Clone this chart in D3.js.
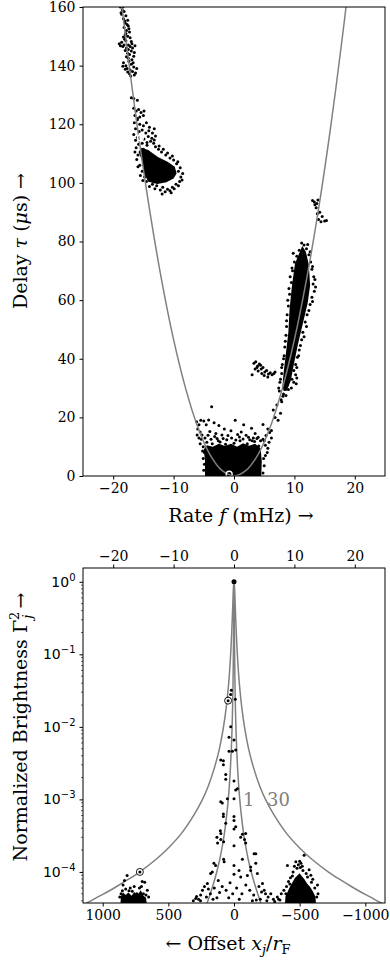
<!DOCTYPE html>
<html>
<head>
<meta charset="utf-8">
<script src="https://cdn.jsdelivr.net/npm/d3@7"></script>
<style>
  body { margin: 0; background: #fff; }
  .tick text { font-family: "DejaVu Serif", serif; font-size: 14px; fill: #000; }
  .lab { font-family: "DejaVu Serif", serif; font-size: 19px; fill: #000; }
</style>
</head>
<body>
<div id="chart"></div>
<script>
// ---- top panel: delay vs rate ----
var rateTicks = [-20, -10, 0, 10, 20];
var delayTicks = [0, 20, 40, 60, 80, 100, 120, 140, 160];

// parabola
var arcRate  = [-19, -18, -16, -14, -12, -10, -8, -6, -4, -2, 0, 2, 4, 6, 8, 10, 12, 14, 16, 18, 19];
var arcDelay = [168, 150.7, 119, 91.1, 67, 46.5, 29.8, 16.7, 7.4, 1.9, 0, 1.9, 7.4, 16.7, 29.8, 46.5, 67, 91.1, 119, 150.7, 168];

// scattered points [rate, delay]
var leftArmPts = [
  [-18.8,160],[-18.5,159],[-18.2,158.5],[-18.6,157.5],[-17.9,157],[-18.3,156],[-17.6,155.5],[-18.0,154.5],
  [-17.5,153.5],[-18.2,153],[-17.8,152],[-17.3,151.5],[-18.0,150.5],[-17.6,150],
  [-18.7,158],[-18.4,160],[-18.1,155.2],[-17.7,154],[-17.4,152.6],[-17.9,151],[-18.3,149.8],[-17.2,149.5],
  [-19.0,147.5],[-18.6,148],[-18.2,147],[-17.9,148.5],[-17.5,147],[-17.2,146.5],[-17.8,146],[-18.4,146.5],
  [-16.8,146],[-17.0,145],[-16.5,144.5],[-17.5,145.5],[-18.8,146.8],[-16.9,147.5],
  [-18.0,145.2],[-17.6,144.2],[-17.3,143.8],[-16.6,143.2],[-18.1,149],[-17.0,148.2],[-16.4,146.8],
  [-18.3,141],[-17.9,140],[-17.4,141.5],[-17.0,140.5],[-16.6,139.5],[-17.7,139],[-17.2,138.5],[-16.8,138],
  [-16.3,137.5],[-17.5,142.5],[-16.9,142],[-16.1,139],[-18.0,138.8],[-17.3,137.2],
  [-17.8,143],[-18.4,139.8],[-16.7,141],[-17.6,137.8],[-16.5,136.8],[-17.1,136.5],
  [-17.0,129],[-16.6,128.8],[-16.0,128.2],
  [-16.6,125.5],[-16.2,124.5],[-15.8,125],[-15.4,124],[-15.0,123],[-16.4,123],[-15.6,122.5],[-14.9,124.5],[-16.0,122],
  [-16.5,120.5],[-16.0,121.5],[-15.6,120],[-15.0,119.5],[-14.5,120.5],[-14.0,119],[-16.3,118.5],[-15.7,117.5],
  [-15.2,118],[-14.6,117],[-14.1,117.8],[-13.5,117],[-13.2,118.5],[-16.6,116.5],[-16.0,115.5],[-14.9,115],
  [-14.2,115.8],[-13.6,115.2],[-13.0,116],[-16.3,114.5],[-15.2,113.5],[-14.4,113.8],[-13.8,114.2],[-13.2,114.6],[-15.8,113.2],
  [-16.2,112],[-15.9,109.5],[-15.6,106],[-15.2,104],[-14.8,102],[-14.5,100.5],[-13.5,99.5],[-12.8,99],
  [-11.8,98.5],[-11.0,97.8],[-10.2,98.5],[-9.6,99.5],[-9.0,100.5],[-8.8,102],[-9.2,104],[-9.5,106.5],
  [-10.0,107.8],[-10.6,108.5],[-11.3,109.5],[-12.0,110.5],[-12.5,111.5],[-13.0,112.3],[-15.0,111.5],
  [-16.4,110.5],[-16.1,108],[-15.9,105.5],[-15.5,102.5],[-15.1,100.8],[-14.0,98.8],[-13.1,98],[-12.2,97.6],
  [-11.4,97],[-10.6,97.3],[-9.9,98],[-9.2,99],[-8.6,101],[-8.5,103.2],[-8.9,105.2],[-9.3,107.2],[-10.2,109.2],
  [-11.0,110.2],[-11.7,111.5],[-12.4,112.6],[-13.3,113.5],[-14.4,112.8],[-10.4,96.6],[-11.9,96.2]
];
var rightArmPts = [
  [13.0,94],[13.3,93.5],[13.7,93],[13.4,92.5],[13.9,94.2],[13.6,91.5],[14.2,90],[14.6,88.5],[15.0,87],
  [14.0,87.5],[14.4,86.7],[15.3,87.2],[13.8,89.5],
  [11.2,79.5],[11.6,78.8],[12.0,77.5],[10.8,77],[10.4,75],[12.4,75.5],[12.7,73],[10.0,73],[11.0,74],
  [12.9,70.5],[13.2,68],[9.7,70],[13.1,65.5],[13.3,63],[9.5,66],[9.2,62],[12.9,61],[12.6,58.5],[9.0,58],
  [8.8,55],[12.1,55],[11.8,52.5],[8.7,51],[8.6,48],[11.4,49],[11.2,46.5],[8.4,44],[8.3,41],[10.8,43],
  [10.5,40.5],[8.0,38],[10.2,38],[7.9,35],[9.9,36],[7.6,32],[9.6,33],[10.2,34.5],[7.5,29],[8.2,28],
  [9.0,29.5],[8.6,27.5],[7.8,26],[10.4,33.4],[6.8,35.5],
  [9.8,76],[9.6,71],[9.3,68],[9.1,64],[8.9,60],[8.7,53],[8.5,46],[8.2,40],[7.9,37],[7.7,33],[7.4,30],
  [12.2,79],[12.6,76.5],[13.0,71.5],[13.4,67],[13.5,64.5],[13.0,59.5],[12.4,56.5],[12.0,51],[11.6,47.5],
  [11.0,44.5],[10.7,41],[10.4,37],[9.9,32],
  [3.0,34.5],[3.3,38.5],[3.6,39],[3.9,37.5],[4.2,38.2],[4.5,36.5],[4.8,37],[5.1,35.5],[5.4,36],[5.7,34.8],
  [6.0,35.2],[6.3,34.5],[6.6,35],[3.5,36.5],[4.0,35.8],[4.6,35],[5.0,34.3],[3.8,37],[4.4,37.8],[5.6,33.8]
];
var vertexPts = [
  [-6.2,18.5],[-5.8,17.5],[-5.5,19],[-5.0,18.8],[-4.6,17.5],[-4.2,19.1],[-3.7,23.6],[-3.3,18.2],[-2.5,17.2],
  [0.2,19],[-1.6,16],[1.6,17.5],[2.9,16.3],[4.8,17.6],[5.6,16],[5.9,14.8],[6.2,15.5],[-6.0,16],[-5.6,15],
  [-5.3,14],[-4.0,15.2],[-3.0,14.5],[-2.0,14],[-1.0,13.8],[0.6,14.2],[1.2,15],[2.0,13.9],[3.5,14.5],
  [4.0,13.2],[4.8,12.5],[5.3,13.8],[5.2,10.5],[5.5,8],[-5.4,12.5],[-5.1,10],[-4.9,8],[-4.3,13.9],
  [-2.8,12.8],[-0.5,15.4],[2.6,12.4],[3.2,13],[6.8,20],[7.1,24.2],[7.7,21.4],[7.9,25.3],[8.1,27.2],
  [8.4,29.5],[8.8,31],[9.5,30],[10.3,31.5],[6.5,22.5],[7.3,19],
  [-4.5,11.5],[-3.6,11],[-2.3,11.6],[-1.4,10.8],[0.0,11.2],[1.0,12],[2.2,11],[3.4,11.8],[4.1,10.2],
  [-5.0,2],[-4.9,4],[-5.1,6],[-5.2,8.5],[-5.6,11],[-5.8,13],[-6.1,14],[-4.8,13],
  [4.8,1],[5.0,3.5],[4.9,6],[5.2,7],[5.6,9.5],[5.8,11.5],[6.2,13],[5.0,12],
  [-3.8,12.5],[-3.2,13.5],[-2.6,12],[-1.8,12.8],[-1.2,12.4],[-0.4,13],[0.3,12.3],[0.9,13.3],[1.5,12.6],
  [2.4,13.2],[3.0,12],[3.8,12.8],[4.4,12]
];

// outlines of the solid black regions [rate, delay]
var leftBlob = [[-15.3,112],[-14.2,111.2],[-12.6,108.8],[-11,107.2],[-9.8,105.5],[-9.5,103.2],[-10,101.5],
  [-11.2,100.2],[-12.7,99.6],[-14.2,100.4],[-14.9,103.3],[-15.2,107.5],[-15.8,110.5]];
var rightBlob = [[11.3,78.5],[11.9,76.5],[12.4,72],[12.6,65],[12.2,59],[11.4,52],[10.6,45],[9.9,38],
  [9.4,32.5],[8.7,29],[8.0,30],[8.2,35],[8.6,42],[9.0,49],[9.2,57],[9.6,65],[10.1,72.5]];
var vertexBlob = [[-4.8,-1],[-4.8,5],[-5.0,9],[-4.5,10.5],[-3.5,10],[-2.5,11],[-1.5,10.2],[-0.5,11],
  [0.5,10],[1.5,11.2],[2.5,10.3],[3.5,11],[4.4,9.5],[4.6,5],[4.5,-1]];

var ringPts = [[-15.5,115.4],[-0.8,0.6]];

// ---- bottom panel: brightness vs offset ----
var offsetTicks = [1000, 500, 0, -500, -1000];
var brightTicks = [1e-4, 1e-3, 1e-2, 1e-1, 1];

// model curves: offsets (wide one) and brightness
var curveOffset = [0, 4, 8, 15, 25, 40, 60, 80, 110, 150, 200, 240, 300, 400, 500, 600, 712, 800, 900, 1000, 1107, 1150];
var curveBright = [1, 0.845, 0.56, 0.253, 0.104, 4.1e-2, 1.8e-2, 1.0e-2, 5.1e-3, 2.7e-3, 1.46e-3, 1.0e-3,
  6.3e-4, 3.4e-4, 2.14e-4, 1.46e-4, 1.02e-4, 8.0e-5, 6.2e-5, 4.9e-5, 3.85e-5, 3.5e-5];
// the narrow curve sits at the same heights, its offsets squeezed by this factor
var narrowScale = 5.48;

// measured images [offset, brightness]
var imagePts = [
  [55,2.4e-2],[45,2.5e-2],[25,2.8e-2],[35,2.2e-2],[-10,2.4e-2],[20,3.2e-2],
  [25,1.0e-2],[38,7.2e-3],[0,6.6e-3],[38,4.6e-3],[-13,4.8e-3],[81,3.4e-3],[81,3.0e-3],[63,2.2e-3],[63,1.9e-3],
  [0,1.8e-3],[-13,1.35e-3],[-26,1.4e-3],[89,8.9e-4],[50,1.02e-3],[0,1.02e-3],[81,6.3e-4],[81,5.8e-4],[0,5.8e-4],
  [0,5.1e-4],[63,4.7e-4],[-13,4.2e-4],[104,3.7e-4],[100,3.4e-4],[130,3.0e-4],[125,2.5e-4],[101,2.8e-4],[79,2.6e-4],
  [0,3.9e-4],[-51,3.0e-4],[-89,3.4e-4],[0,2.3e-4],[79,1.5e-4],[75,1.38e-4],[-153,1.78e-4],[-64,1.5e-4],[0,1.23e-4],
  [140,1.23e-4],[165,1.0e-4],[-127,1.17e-4],[-127,1.05e-4],[-166,1.32e-4],[-38,1.05e-4],[0,9.3e-5],[-51,8.5e-5],
  [-102,8.9e-5],[-64,3.3e-4],[-80,2.8e-4],[-89,2.5e-4],[12,4.6e-3],[101,3.5e-3],[101,9.3e-4],[-166,1.78e-4],
  [-178,9.5e-5],[153,1.32e-4],[178,9.5e-5],[203,6.9e-5],[254,4.8e-5],[292,4.3e-5],
  [120,7.6e-5],[90,6.3e-5],[60,5.6e-5],[30,7.1e-5],[-20,6.0e-5],[-60,5.0e-5],[-90,6.6e-5],[-120,5.6e-5],
  [-150,4.8e-5],[-190,6.3e-5],[-217,6.9e-5],[-230,5.6e-5],[-260,4.5e-5],[-300,4.2e-5],[-330,4.5e-5],[-280,5.0e-5],
  [150,6.0e-5],[180,5.0e-5],[210,4.5e-5],[240,5.6e-5],[270,4.2e-5],[310,4.0e-5],[225,6.3e-5],[-200,4.2e-5],[-240,5.0e-5],
  [130,4.4e-5],[110,5.2e-5],[160,4.2e-5],[195,5.8e-5],[255,4.0e-5],[285,4.6e-5],[-170,4.1e-5],[-210,5.3e-5],
  [-250,4.0e-5],[-310,3.9e-5],[-350,4.1e-5],[-140,4.0e-5],[40,4.4e-5],[-40,4.2e-5],[10,5.0e-5],
  [-534,1.7e-4],[-471,1.38e-4],[-407,1.23e-4],[-572,1.07e-4],[-636,6.6e-5],[-640,5.0e-5],[-360,5.0e-5],[-340,4.2e-5],
  [-490,1.26e-4],[-510,1.32e-4],[-520,1.2e-4],[-480,1.12e-4],[-450,1.0e-4],[-550,9.5e-5],[-600,7.9e-5],[-430,8.3e-5],
  [-400,6.3e-5],[-630,4.5e-5],[-500,1.4e-4],[-460,1.2e-4],[-585,9.0e-5],[-415,7.4e-5],[-380,5.6e-5],
  [-395,5.0e-5],[-425,6.8e-5],[-445,8.8e-5],[-505,1.15e-4],[-525,1.05e-4],[-560,8.5e-5],[-590,7.2e-5],[-615,6.0e-5],
  [814,8.9e-5],[834,7.6e-5],[845,6.6e-5],[699,7.4e-5],[680,7.2e-5],[790,6.0e-5],[760,6.3e-5],[720,6.0e-5],
  [650,4.5e-5],[870,4.5e-5],[800,5.5e-5],[740,5.0e-5],[850,5.5e-5],[690,5.0e-5],[660,5.6e-5],
  [860,5.0e-5],[825,5.8e-5],[775,5.4e-5],[705,6.3e-5],[670,4.8e-5]
];
var imageBlobs = [
  [[866,3e-5],[862,4.6e-5],[845,5.2e-5],[825,4.8e-5],[805,5.2e-5],[780,4.7e-5],[760,5.3e-5],[735,4.8e-5],
   [710,5.6e-5],[690,4.7e-5],[670,4.4e-5],[658,3e-5]],
  [[-385,3e-5],[-392,4.6e-5],[-410,5.4e-5],[-425,6.2e-5],[-445,7.2e-5],[-465,8.3e-5],[-485,9.0e-5],[-500,9.6e-5],
   [-515,8.8e-5],[-535,8.0e-5],[-555,7.0e-5],[-580,6.2e-5],[-600,5.4e-5],[-620,4.6e-5],[-628,3e-5]]
];
var mainImage = [0, 1];
var ringImages = [[45, 2.3e-2], [717, 1e-4]];
var curveLabels = [["1", -68, 1e-3], ["30", -251, 1e-3]];

function makeChart() {
    var svg = d3.select("#chart").append("svg")
        .attr("width", 390).attr("height", 962);

    var left = 83, right = 385;
    var grey = "#808080";

    // ---------- top panel ----------
    var x = d3.scaleLinear().domain([-25, 25]).range([left, right]);
    var y = d3.scaleLinear().domain([0, 160]).range([476, 7]);

    svg.append("clipPath").attr("id", "clipTop").append("rect")
        .attr("x", left).attr("y", 7).attr("width", right - left).attr("height", 469);

    var top = svg.append("g").attr("clip-path", "url(#clipTop)");

    var blobLine = d3.line().x(d => x(d[0])).y(d => y(d[1])).curve(d3.curveLinearClosed);
    top.selectAll("path.blob").data([leftBlob, rightBlob, vertexBlob]).enter().append("path")
        .attr("d", blobLine).attr("fill", "#000");

    var allTop = leftArmPts.concat(rightArmPts, vertexPts);
    top.selectAll("circle.pt").data(allTop).enter().append("circle")
        .attr("cx", d => x(d[0])).attr("cy", d => y(d[1])).attr("r", 1.5).attr("fill", "#000");

    var arc = arcRate.map((f, i) => [f, arcDelay[i]]);
    top.append("path").datum(arc)
        .attr("d", d3.line().x(d => x(d[0])).y(d => y(d[1])).curve(d3.curveCatmullRom))
        .attr("fill", "none").attr("stroke", grey).attr("stroke-width", 1.5);

    top.selectAll("g.ring").data(ringPts).enter().append("circle")
        .attr("cx", d => x(d[0])).attr("cy", d => y(d[1])).attr("r", 3)
        .attr("fill", "none").attr("stroke", "#fff").attr("stroke-width", 1.3);

    svg.append("g").attr("transform", "translate(0,476)")
        .call(d3.axisBottom(x).tickValues(rateTicks).tickSize(3.5).tickPadding(4).tickFormat(d3.format("")));
    svg.append("g").attr("transform", "translate(" + left + ",0)")
        .call(d3.axisLeft(y).tickValues(delayTicks).tickSize(3.5).tickPadding(4));
    svg.append("rect").attr("x", left).attr("y", 7).attr("width", right - left).attr("height", 469)
        .attr("fill", "none").attr("stroke", "#000").attr("stroke-width", 1);

    // axis titles
    var xt = svg.append("text").attr("class", "lab").attr("x", 241).attr("y", 522).attr("text-anchor", "middle");
    xt.append("tspan").text("Rate ");
    xt.append("tspan").attr("font-style", "italic").text("f");
    xt.append("tspan").text(" (mHz) \u2192");

    var yt = svg.append("text").attr("class", "lab").attr("transform", "translate(27,241) rotate(-90)")
        .attr("text-anchor", "middle");
    yt.append("tspan").text("Delay ");
    yt.append("tspan").attr("font-style", "italic").text("\u03c4");
    yt.append("tspan").text(" (");
    yt.append("tspan").attr("font-style", "italic").text("\u03bc");
    yt.append("tspan").text("s) \u2192");

    // ---------- bottom panel ----------
    var xb = d3.scaleLinear().domain([1150, -1150]).range([left, right]);
    var yb = d3.scaleLog().domain([3.73e-5, 1.55]).range([903, 568]);

    svg.append("clipPath").attr("id", "clipBot").append("rect")
        .attr("x", left).attr("y", 568).attr("width", right - left).attr("height", 335);
    var bot = svg.append("g").attr("clip-path", "url(#clipBot)");

    // build both symmetric curves from the read-off table
    function curvePts(squeeze) {
        var half = curveOffset.map((o, i) => [o / squeeze, curveBright[i]]);
        return half.slice(1).reverse().map(d => [-d[0], d[1]]).concat(half);
    }
    bot.selectAll("path.cv").data([curvePts(1), curvePts(narrowScale)]).enter().append("path")
        .attr("d", d3.line().x(d => xb(d[0])).y(d => yb(d[1])).curve(d3.curveCatmullRom))
        .attr("fill", "none").attr("stroke", grey).attr("stroke-width", 1.5);

    bot.selectAll("path.iblob").data(imageBlobs).enter().append("path")
        .attr("d", d3.line().x(d => xb(d[0])).y(d => yb(d[1])).curve(d3.curveLinearClosed))
        .attr("fill", "#000");

    bot.selectAll("circle.ip").data(imagePts).enter().append("circle")
        .attr("cx", d => xb(d[0])).attr("cy", d => yb(d[1])).attr("r", 1.5).attr("fill", "#000");

    bot.append("circle").attr("cx", xb(mainImage[0])).attr("cy", yb(mainImage[1])).attr("r", 2.5).attr("fill", "#000");

    var rings = bot.selectAll("g.rg").data(ringImages).enter().append("g")
        .attr("transform", d => "translate(" + xb(d[0]) + "," + yb(d[1]) + ")");
    rings.append("circle").attr("r", 3.5).attr("fill", "#fff").attr("stroke", "#000").attr("stroke-width", 0.9);
    rings.append("circle").attr("r", 1.5).attr("fill", "#000");

    svg.selectAll("text.cl").data(curveLabels).enter().append("text")
        .attr("x", d => xb(d[1])).attr("y", d => yb(d[2]) + 7)
        .attr("font-family", "DejaVu Serif, serif").attr("font-size", 18).attr("fill", grey)
        .text(d => d[0]);

    // axes
    svg.append("g").attr("transform", "translate(0,903)")
        .call(d3.axisBottom(xb).tickValues(offsetTicks).tickSize(3.5).tickPadding(4).tickFormat(d3.format("")));
    var xTop = d3.scaleLinear().domain([-25, 25]).range([left, right]);
    svg.append("g").attr("transform", "translate(0,568)")
        .call(d3.axisTop(xTop).tickValues(rateTicks).tickSize(3.5).tickPadding(4).tickFormat(d3.format("")));

    var minor = [];
    [-5, -4, -3, -2, -1, 0].forEach(function (e) {
        for (var k = 2; k <= 9; k++) {
            var v = k * Math.pow(10, e);
            if (v > 3.73e-5 && v < 1.55) minor.push(v);
        }
    });
    var yAxisB = svg.append("g").attr("transform", "translate(" + left + ",0)");
    yAxisB.call(d3.axisLeft(yb).tickValues(brightTicks).tickSize(3.5).tickPadding(4).tickFormat(""));
    yAxisB.selectAll("line.mn").data(minor).enter().append("line").attr("class", "mn")
        .attr("x1", 0).attr("x2", -2).attr("y1", d => yb(d)).attr("y2", d => yb(d))
        .attr("stroke", "#000").attr("stroke-width", 0.6);
    yAxisB.selectAll(".tick").each(function (d) {
        var t = d3.select(this).select("text").text(null)
            .style("font-family", "DejaVu Sans, sans-serif").style("font-size", "14px");
        var e = Math.round(Math.log10(d));
        t.append("tspan").text("10");
        t.append("tspan").attr("dy", -6).style("font-size", "10px").text(e === 0 ? "0" : "\u2212" + Math.abs(e));
    });
    svg.append("rect").attr("x", left).attr("y", 568).attr("width", right - left).attr("height", 335)
        .attr("fill", "none").attr("stroke", "#000").attr("stroke-width", 1);

    var bx = svg.append("text").attr("class", "lab").attr("x", 228).attr("y", 950).attr("text-anchor", "middle");
    bx.append("tspan").text("\u2190 Offset ");
    bx.append("tspan").attr("font-style", "italic").text("x");
    bx.append("tspan").attr("font-style", "italic").attr("font-size", 13).attr("dy", 4).text("j");
    bx.append("tspan").attr("dy", -4).text("/");
    bx.append("tspan").attr("font-style", "italic").text("r");
    bx.append("tspan").attr("font-size", 13).attr("dy", 4).text("F");

    var by = svg.append("text").attr("class", "lab").attr("transform", "translate(27,727) rotate(-90)")
        .attr("text-anchor", "middle");
    by.append("tspan").text("Normalized Brightness \u0393");
    by.append("tspan").attr("font-size", 13).attr("dy", -8).text("2");
    by.append("tspan").attr("font-size", 13).attr("font-style", "italic").attr("dx", -7).attr("dy", 13).text("j");
    by.append("tspan").attr("dy", -5).text(" \u2192");

    svg.selectAll(".domain").remove();
}

makeChart();
</script>
</body>
</html>
